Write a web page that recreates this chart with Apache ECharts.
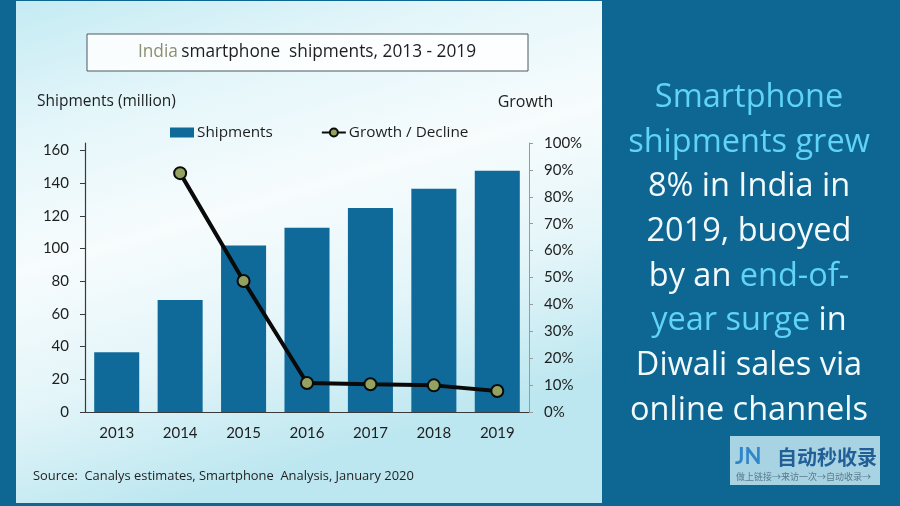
<!DOCTYPE html>
<html>
<head>
<meta charset="utf-8">
<script src="https://cdn.jsdelivr.net/npm/echarts@6/dist/echarts.min.js"></script>
<style>html,body{margin:0;padding:0;background:#0e6693;}#c{width:900px;height:506px;}</style>
</head>
<body>
<div id="c"></div>
<script>
const years = ['2013','2014','2015','2016','2017','2018','2019'];
const shipments = [36.5, 68.5, 101.8, 112.6, 124.7, 136.5, 147.5];
const growth = [null, 88.8, 48.7, 10.8, 10.3, 9.9, 7.8];
const leftTicks = [0,20,40,60,80,100,120,140,160];
const rightTicks = [0,10,20,30,40,50,60,70,80,90,100];

const NUM = 'Lato, "Noto Sans", sans-serif';
const TXT = '"Open Sans", "Noto Sans", sans-serif';
const chart = echarts.init(document.getElementById('c'), null, {renderer:'canvas'});

const option = {
  backgroundColor: '#0e6693',
  animation: false,
  textStyle: {fontFamily: TXT},
  graphic: [
    {type:'rect', z:-10, shape:{x:16,y:1,width:586,height:502},
     style:{fill:{type:'linear',x:0,y:0,x2:0.25,y2:1,colorStops:[
       {offset:0,color:'#c4ebf3'},{offset:0.25,color:'#e4f6fa'},{offset:0.5,color:'#f7fcfd'},
       {offset:0.75,color:'#e3f5f9'},{offset:1,color:'#bde7f0'}]}}},
    {type:'rect', z:-5, shape:{x:87,y:34,width:441,height:37},
     style:{fill:'rgba(255,255,255,0.85)',stroke:'#4a5a60',lineWidth:1}},
    {type:'text', style:{
      text:'{a|India} {b|smartphone  shipments, 2013 - 2019}', x:307, y:52, align:'center', verticalAlign:'middle',
      rich:{a:{fill:'#8b9070',fontSize:17.3,fontFamily:TXT},b:{fill:'#1e1e1e',fontSize:17.3,fontFamily:TXT}}}},
    {type:'text', style:{text:'Shipments (million)', x:37, y:102, verticalAlign:'middle', fill:'#1e1e1e', fontSize:15.5, fontFamily:TXT}},
    {type:'text', style:{text:'Growth', x:525.5, y:102, align:'center', verticalAlign:'middle', fill:'#1e1e1e', fontSize:16, fontFamily:TXT}},
    {type:'text', style:{text:'Source:  Canalys estimates, Smartphone  Analysis, January 2020', x:33, y:476, verticalAlign:'middle', fill:'#1e1e1e', fontSize:12.9, fontFamily:TXT}},
    {type:'text', style:{
      text:'{c|Smartphone}\n{c|shipments grew}\n{w|8% in India in}\n{w|2019, buoyed}\n{w|by an }{c|end-of-}\n{c|year surge}{w| in}\n{w|Diwali sales via}\n{w|online channels}',
      x:749, y:254, align:'center', verticalAlign:'middle',
      rich:{
        c:{fill:'#5fd4f4',fontSize:32.5,lineHeight:44.7,fontFamily:TXT},
        w:{fill:'#f2fafc',fontSize:32.5,lineHeight:44.7,fontFamily:TXT}
      }}},
    {type:'rect', shape:{x:730,y:436,width:150,height:49}, style:{fill:'#a8d3e3'}},
    {type:'text', style:{text:'JN', x:735, y:457, verticalAlign:'middle', fill:'#2f86c9', fontSize:22, fontWeight:'bold', fontFamily:NUM}},
    {type:'text', style:{text:'自动秒收录', x:777, y:457, verticalAlign:'middle', fill:'#235f97', fontSize:20, fontWeight:'bold', fontFamily:'"Noto Sans CJK SC"'}},
    {type:'text', style:{text:'做上链接→来访一次→自动收录→', x:736, y:477, verticalAlign:'middle', fill:'#5a7a8a', fontSize:9, fontFamily:'"Noto Sans CJK SC"'}}
  ],
  legend: {
    left: 165, top: 120,
    itemGap: 48,
    itemWidth: 24, itemHeight: 10,
    textStyle: {fontSize: 15.3, color:'#1e1e1e', fontFamily: TXT, padding:[0,0,0,-2]},
    data: [
      {name:'Shipments', icon:'rect'},
      {name:'Growth / Decline'}
    ]
  },
  grid: {left: 85, top: 143, width: 444, height: 269, containLabel: false},
  xAxis: {
    type:'category', data: years,
    axisLine:{lineStyle:{color:'#3a3a3a',width:1.2}},
    axisTick:{show:false},
    axisLabel:{color:'#1e1e1e', fontSize:15, margin:14, fontFamily:NUM}
  },
  yAxis: [
    {type:'value', min:0, max:164.5, interval:20, position:'left',
     splitLine:{show:false},
     axisLine:{show:true, lineStyle:{color:'#3a3a3a',width:1.2}},
     axisTick:{show:true, length:5, customValues:leftTicks, lineStyle:{color:'#3a3a3a'}},
     axisLabel:{color:'#1e1e1e', fontSize:15, margin:16, customValues:leftTicks, fontFamily:NUM}},
    {type:'value', min:0, max:100, interval:10, position:'right',
     splitLine:{show:false},
     axisLine:{show:true, lineStyle:{color:'#9a9a9a',width:1}},
     axisTick:{show:true, length:4, customValues:rightTicks, lineStyle:{color:'#9a9a9a'}},
     axisLabel:{color:'#1e1e1e', fontSize:15, margin:15, customValues:rightTicks, formatter:'{value}%', fontFamily:NUM}}
  ],
  series: [
    {name:'Shipments', type:'bar', data: shipments, yAxisIndex:0, barCategoryGap:'29%',
     itemStyle:{color:'#0f6a99'}},
    {name:'Growth / Decline', type:'line', data: growth, yAxisIndex:1,
     symbol:'circle', symbolSize:12, connectNulls:false,
     lineStyle:{color:'#0a0a0a', width:4},
     itemStyle:{color:'#93a35f', borderColor:'#0a0a0a', borderWidth:2}}
  ]
};
chart.setOption(option);
</script>
</body>
</html>
